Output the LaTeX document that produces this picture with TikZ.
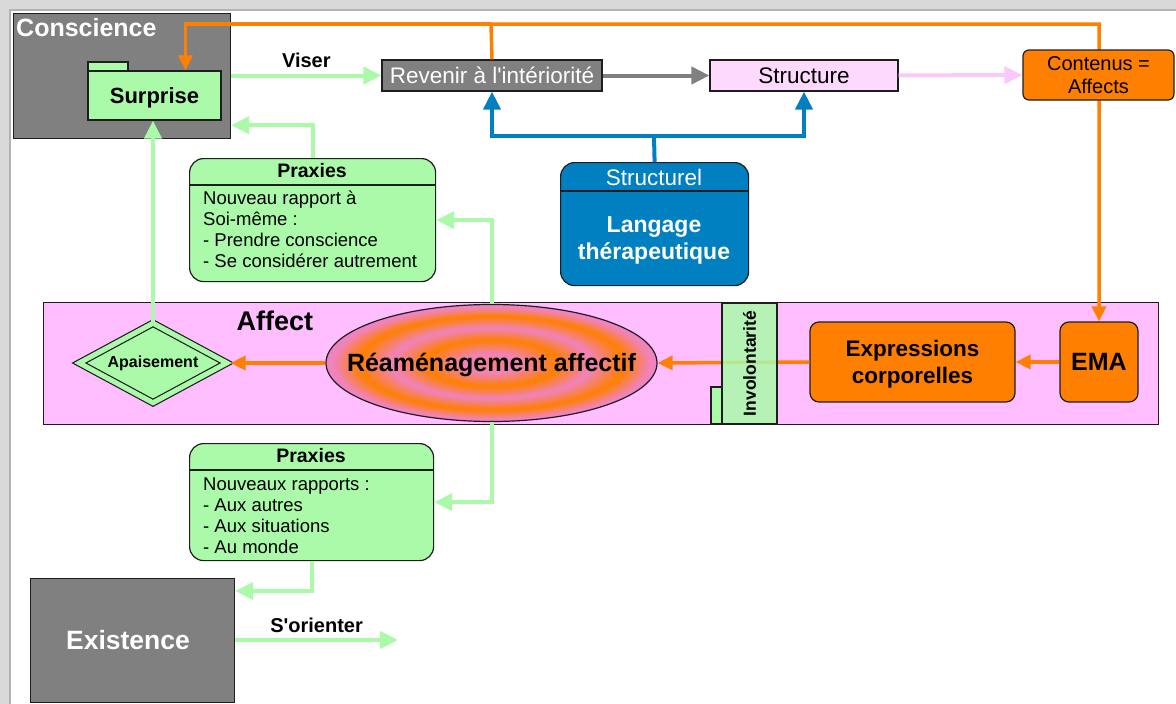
\documentclass[tikz,border=0pt]{standalone}
\usepackage{fontspec}
\setmainfont{Liberation Sans}[Ligatures=TeXOff]
\usetikzlibrary{shapes.geometric, arrows.meta, positioning}

\definecolor{gris}{RGB}{128,128,128}
\definecolor{bord}{RGB}{30,30,30}
\definecolor{vert}{RGB}{170,250,170}
\definecolor{orangeA}{RGB}{255,128,0}
\definecolor{rose}{RGB}{255,190,255}
\definecolor{roseclair}{RGB}{253,217,253}
\definecolor{roseligne}{RGB}{250,200,250}
\definecolor{bleu}{RGB}{0,128,192}
\definecolor{anneau}{RGB}{240,130,190}
\colorlet{centre}{anneau!60!orangeA}

% anneaux de l'ellipse
\pgfdeclareradialshading{anneaux}{\pgfpoint{0bp}{0bp}}{color(0bp)=(centre); color(4bp)=(anneau); color(10bp)=(orangeA); color(15bp)=(anneau); color(20bp)=(orangeA); color(24bp)=(anneau); color(50bp)=(anneau)}

\tikzset{
    boite/.style={draw=bord, line width=1.2pt, inner sep=0pt},
    fleche/.style={line width=4pt, -{Triangle[length=18pt,width=17pt]}},
    flechefine/.style={line width=3.5pt, -{Triangle[length=15pt,width=14pt]}},
    titre/.style={font=\fontsize{19.5}{23}\selectfont\bfseries},
    corps/.style={font=\fontsize{18.5}{21}\selectfont, align=left, anchor=north west, inner sep=0pt},
    etiquette/.style={font=\fontsize{20}{24}\selectfont\bfseries, text=black},
}

\begin{document}
\begin{tikzpicture}[x=1pt, y=-1pt]
    \useasboundingbox (0,0) rectangle (1176,704);

    % Cadre
    \fill[gray!30] (0,0) rectangle (1176,10);
    \fill[gray!30] (0,0) rectangle (10,704);
    \draw[gray!60, line width=1.5pt] (10,704) -- (10,10) -- (1176,10);

    % Bande Affect
    \node[boite, fill=rose, minimum width=1115, minimum height=122, anchor=north west] (affect) at (43,302) {};
    \node[font=\fontsize{27}{31}\selectfont\bfseries] (affectlbl) at (275,321) {Affect};

    % Conscience et Surprise
    \node[boite, fill=gris, minimum width=217, minimum height=125, anchor=north west] (conscience) at (13,13) {};
    \node[anchor=north west, text=white, font=\fontsize{25}{29}\selectfont\bfseries, inner sep=0pt] (conscLbl) at (16,18) {Conscience};
    \draw[boite, fill=vert] (88,62) rectangle (128,72);
    \node[boite, fill=vert, minimum width=133, minimum height=49] (surprise) at (154.5,95.5) {};
    \node[font=\fontsize{22}{26}\selectfont\bfseries] (surpriseLbl) at ([yshift=-2pt]surprise.center) {Surprise};

    % Ligne du haut
    \node[boite, fill=gris, text=white, minimum width=220, minimum height=31, font=\fontsize{22.5}{26}\selectfont] (revenir) at (492,75.5) {Revenir à l'intériorité};
    \node[boite, fill=roseclair, minimum width=188, minimum height=31, font=\fontsize{22.5}{26}\selectfont] (structure) at (804,75.5) {Structure};

    % Ellipse, expressions, EMA
    \node[ellipse, draw=bord, line width=1.2pt, shading=anneaux, minimum width=331, minimum height=117, inner sep=0pt] (ream) at (491.5,363) {};
    \node[font=\fontsize{25}{29}\selectfont\bfseries] (reamLbl) at ([yshift=-2pt]ream.center) {Réaménagement affectif};
    \node[boite, fill=orangeA, rounded corners=9pt, minimum width=205, minimum height=80] (expr) at (912.5,362) {};
    \node[align=center, font=\fontsize{22.5}{27}\selectfont\bfseries] (exprLbl) at ([yshift=-2pt]expr.center) {Expressions\\corporelles};
    \node[boite, fill=orangeA, rounded corners=9pt, minimum width=78, minimum height=80, font=\fontsize{25}{29}\selectfont\bfseries] (ema) at (1099,362) {EMA};

    % Apaisement
    \node[diamond, draw=bord, line width=1.2pt, double=vert, double distance=5pt, fill=vert, minimum width=148, minimum height=80, inner sep=0pt] (apais) at (153,363) {};
    \node[font=\fontsize{16}{19}\selectfont\bfseries] (apaisLbl) at (apais.center) {Apaisement};

    % Retour orange vers Surprise et EMA
    \coordinate (haut) at (491,24);
    \draw[flechefine, orangeA] (revenir.north) -- (haut) -| (ema.north);
    \draw[flechefine, orangeA] (haut) -| ([xshift=31pt]surprise.north);
    \node[boite, fill=orangeA, rounded corners=6pt, minimum width=151, minimum height=50, align=center, font=\fontsize{20}{23}\selectfont] (contenus) at (1098.5,75) {Contenus =\\Affects};

    % Fleches du haut
    \draw[fleche, vert] (conscience.east |- revenir.west) -- node[above=2pt, etiquette] (viser) {Viser} (revenir.west);
    \draw[fleche, gris] (revenir) -- (structure);
    \draw[fleche, roseligne] (structure) -- (contenus);

    % Langage therapeutique
    \node[boite, fill=bleu, rounded corners=14pt, minimum width=188, minimum height=123, anchor=north west] (structurel) at (560,162) {};
    \draw[bord, line width=1.2pt] ([yshift=-29pt]structurel.north west) -- ([yshift=-29pt]structurel.north east);
    \node[text=white, font=\fontsize{22.5}{26}\selectfont] (structLbl) at (654,177) {Structurel};
    \node[text=white, align=center, font=\fontsize{23}{27}\selectfont\bfseries] (langage) at (654,240) {Langage\\thérapeutique};
    \coordinate (bifur) at (654,136);
    \draw[line width=4pt, bleu] (structurel.north) -- (bifur);
    \draw[fleche, bleu] (bifur) -| (revenir.south);
    \draw[fleche, bleu] (bifur) -| (structure.south);

    % Praxies du haut
    \node[boite, fill=vert, rounded corners=14pt, minimum width=246, minimum height=123, anchor=north west] (prax1) at (189,158) {};
    \draw[bord, line width=1.2pt] ([yshift=-27pt]prax1.north west) -- ([yshift=-27pt]prax1.north east);
    \node[titre] (prax1titre) at (312,171) {Praxies};
    \node[corps] (prax1corps) at (203,191) {Nouveau rapport à\\Soi-même :\\- Prendre conscience\\- Se considérer autrement};

    % Praxies du bas
    \node[boite, fill=vert, rounded corners=14pt, minimum width=244, minimum height=117, anchor=north west] (prax2) at (189,443) {};
    \draw[bord, line width=1.2pt] ([yshift=-27pt]prax2.north west) -- ([yshift=-27pt]prax2.north east);
    \node[titre] (prax2titre) at (311,456) {Praxies};
    \node[corps] (prax2corps) at (203,478) {Nouveaux rapports :\\- Aux autres\\- Aux situations\\- Au monde};

    % Existence
    \node[boite, fill=gris, minimum width=204, minimum height=124, anchor=north west] (existence) at (30,578) {};
    \node[text=white, font=\fontsize{26.5}{30}\selectfont\bfseries] (existLbl) at (128,640) {Existence};
    \coordinate (sortie) at (398,640);
    \draw[fleche, vert] (existence.east |- sortie) -- node[above=2pt, etiquette] (orienter) {S'orienter} (sortie);

    % Fleches vertes
    \draw[fleche, vert] (prax1.north) |- ([yshift=14pt]conscience.south east);
    \draw[fleche, vert] (ream.north) |- (prax1.east);
    \draw[fleche, vert] (apais.north) -- (apais.north |- surprise.south);
    \draw[fleche, vert] (ream.south) |- (prax2.east);
    \draw[fleche, vert] (prax2.south) |- ([yshift=-13pt]existence.north east);

    % Fleches orange dans la bande
    \draw[flechefine, orangeA] (ema.west) -- (expr.east);
    \draw[flechefine, orangeA] (expr.west) -- (ream.east);
    \draw[flechefine, orangeA] (ream.west) -- ([xshift=3pt]apais.east);

    % Involontarite
    \draw[boite, fill=vert] (711,387) rectangle (722,424);
    \node[boite, fill=vert, fill opacity=0.85, text opacity=1, rotate=90, minimum width=121, minimum height=55, font=\fontsize{17.5}{21}\selectfont\bfseries] (invol) at (749.5,363.5) {Involontarité};
\end{tikzpicture}
\end{document}
